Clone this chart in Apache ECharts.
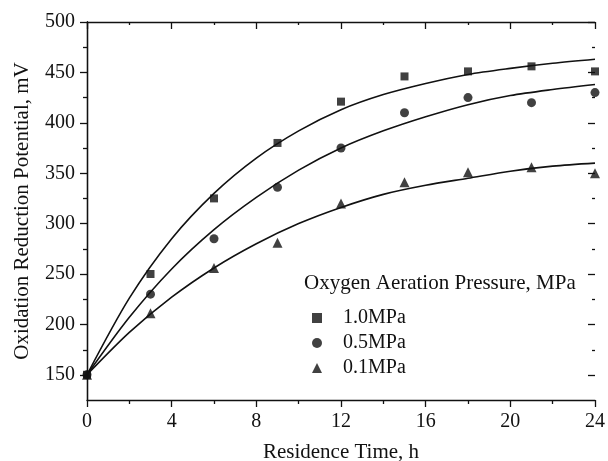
<!DOCTYPE html>
<html>
<head>
<meta charset="utf-8">
<script src="https://cdn.jsdelivr.net/npm/echarts@6/dist/echarts.min.js"></script>
<style>
  html, body { margin: 0; padding: 0; background: #fff; }
  #chart { width: 608px; height: 461px; }
</style>
</head>
<body>
<div id="chart"></div>
<script>
// measured points
const timeH = [0, 3, 6, 9, 12, 15, 18, 21, 24];
const orp10 = [150, 250, 325, 380, 421, 446, 451, 456, 451];
const orp05 = [150, 230, 285, 336, 375, 410, 425, 420, 430];
const orp01 = [150, 211, 256, 281, 320, 341, 351, 356, 350];

// fitted curves, every 2 h
const curveTime = [0, 2, 4, 6, 8, 10, 12, 14, 16, 18, 20, 22, 24];
const fit10 = [150, 226, 285, 330, 365, 392, 413, 428, 439, 448, 454, 459, 463];
const fit05 = [150, 207, 255, 294, 326, 353, 375, 392, 406, 418, 427, 433, 438];
const fit01 = [150, 192, 227, 256, 280, 300, 316, 329, 338, 345, 352, 357, 360];

const seriesNames = ['1.0MPa', '0.5MPa', '0.1MPa'];
const xTicks = [0, 4, 8, 12, 16, 20, 24];
const yTicks = [150, 200, 250, 300, 350, 400, 450, 500];

const font = 'Liberation Serif';
const ink = '#111';

const pairs = (xs, ys) => xs.map((x, i) => [x, ys[i]]);

const chart = echarts.init(document.getElementById('chart'));

const axisLine = { show: true, lineStyle: { color: ink, width: 1.3 } };

chart.setOption({
  animation: false,
  backgroundColor: '#fff',
  title: {
    text: 'Oxygen Aeration Pressure, MPa',
    left: 299,
    top: 268,
    textStyle: { fontFamily: font, fontSize: 21, fontWeight: 'normal', color: ink }
  },
  legend: {
    data: seriesNames,
    orient: 'vertical',
    left: 307,
    top: 303,
    itemWidth: 10,
    itemHeight: 10,
    itemGap: 5,
    textStyle: { fontFamily: font, fontSize: 20, lineHeight: 20, color: ink, padding: [0, 0, 0, 16] }
  },
  grid: [
    { left: 87, right: 13, top: 22, bottom: 61, outerBoundsMode: 'none' },
    { left: 87, right: 13, top: 22, bottom: 86, outerBoundsMode: 'none' }
  ],
  xAxis: [
    {
      type: 'value', gridIndex: 0, position: 'bottom',
      min: xTicks[0], max: xTicks[xTicks.length - 1], interval: 4,
      name: 'Residence Time, h', nameLocation: 'middle', nameGap: 42,
      nameTextStyle: { fontFamily: font, fontSize: 21, color: ink },
      axisLine: axisLine,
      axisTick: { show: true, length: 7, lineStyle: { color: ink, width: 1.3 } },
      minorTick: { show: true, splitNumber: 2, length: 4, lineStyle: { color: ink, width: 1.3 } },
      axisLabel: { fontFamily: font, fontSize: 20, color: ink, margin: 12 },
      splitLine: { show: false }
    },
    {
      type: 'value', gridIndex: 0, position: 'top',
      min: xTicks[0], max: xTicks[xTicks.length - 1], interval: 4,
      axisLine: axisLine,
      axisTick: { show: true, inside: true, length: 7, lineStyle: { color: ink, width: 1.3 } },
      minorTick: { show: true, splitNumber: 2, length: 3, lineStyle: { color: ink, width: 1.3 } },
      axisLabel: { show: false },
      splitLine: { show: false }
    },
    {
      type: 'value', gridIndex: 1, show: false,
      min: xTicks[0], max: xTicks[xTicks.length - 1]
    }
  ],
  yAxis: [
    {
      type: 'value', gridIndex: 0, position: 'left',
      min: 125, max: 500,
      name: 'Oxidation Reduction Potential, mV', nameLocation: 'middle', nameGap: 54,
      nameTextStyle: { fontFamily: font, fontSize: 21, color: ink },
      axisLine: axisLine,
      axisTick: { show: false },
      axisLabel: { show: false },
      splitLine: { show: false }
    },
    {
      type: 'value', gridIndex: 0, position: 'right',
      min: 125, max: 500,
      axisLine: axisLine,
      axisTick: { show: false },
      axisLabel: { show: false },
      splitLine: { show: false }
    },
    {
      type: 'value', gridIndex: 1, position: 'left',
      min: yTicks[0], max: yTicks[yTicks.length - 1], interval: 50,
      axisLine: { show: false },
      axisTick: { show: true, length: 7, lineStyle: { color: ink, width: 1.3 } },
      minorTick: { show: true, splitNumber: 2, length: 4, lineStyle: { color: ink, width: 1.3 } },
      axisLabel: { fontFamily: font, fontSize: 20, color: ink, margin: 12 },
      splitLine: { show: false }
    },
    {
      type: 'value', gridIndex: 1, position: 'right',
      min: yTicks[0], max: yTicks[yTicks.length - 1], interval: 50,
      axisLine: { show: false },
      axisTick: { show: true, inside: true, length: 7, lineStyle: { color: ink, width: 1.3 } },
      minorTick: { show: true, splitNumber: 2, length: 3, lineStyle: { color: ink, width: 1.3 } },
      axisLabel: { show: false },
      splitLine: { show: false }
    }
  ],
  series: [
    { type: 'line', name: 'fit10', xAxisIndex: 0, yAxisIndex: 0, data: pairs(curveTime, fit10),
      smooth: 0.3, showSymbol: false, silent: true, lineStyle: { color: ink, width: 1.6 }, z: 2 },
    { type: 'line', name: 'fit05', xAxisIndex: 0, yAxisIndex: 0, data: pairs(curveTime, fit05),
      smooth: 0.3, showSymbol: false, silent: true, lineStyle: { color: ink, width: 1.6 }, z: 2 },
    { type: 'line', name: 'fit01', xAxisIndex: 0, yAxisIndex: 0, data: pairs(curveTime, fit01),
      smooth: 0.3, showSymbol: false, silent: true, lineStyle: { color: ink, width: 1.6 }, z: 2 },
    { type: 'scatter', name: seriesNames[0], xAxisIndex: 0, yAxisIndex: 0, data: pairs(timeH, orp10),
      symbol: 'rect', symbolSize: 8, itemStyle: { color: ink }, z: 3 },
    { type: 'scatter', name: seriesNames[1], xAxisIndex: 0, yAxisIndex: 0, data: pairs(timeH, orp05),
      symbol: 'circle', symbolSize: 9, itemStyle: { color: ink }, z: 3 },
    { type: 'scatter', name: seriesNames[2], xAxisIndex: 0, yAxisIndex: 0, data: pairs(timeH, orp01),
      symbol: 'triangle', symbolSize: 10, itemStyle: { color: ink }, z: 3 }
  ]
});
</script>
</body>
</html>
